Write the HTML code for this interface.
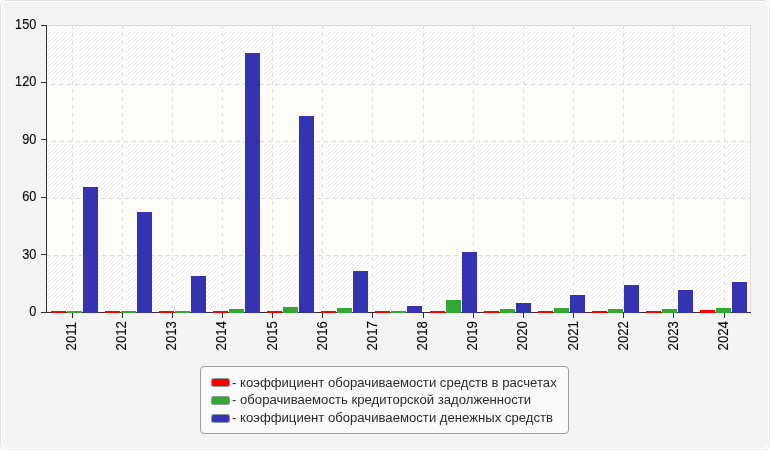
<!DOCTYPE html>
<html lang="ru"><head><meta charset="utf-8"><title>chart</title>
<style>
html,body{margin:0;padding:0;background:#fff;}
body{width:770px;height:450px;overflow:hidden;}
svg{display:block;}
text{stroke:#000;stroke-width:0.12px;font-family:"Liberation Sans",Arial,sans-serif;font-size:14px;fill:#0a0a0a;}
</style></head><body>
<svg width="770" height="450" viewBox="0 0 770 450">
<defs>
<pattern id="hatch" x="0" y="0" width="4" height="4" patternUnits="userSpaceOnUse">
<rect x="2" y="0" width="1" height="1" fill="#eeeeee"/>
<rect x="1" y="1" width="1" height="1" fill="#eeeeee"/>
<rect x="0" y="2" width="1" height="1" fill="#eeeeee"/>
<rect x="3" y="3" width="1" height="1" fill="#eeeeee"/>
</pattern>
</defs>

<rect x="0.5" y="0.5" width="769" height="449" rx="5.5" ry="5.5" fill="#ffffff" stroke="#e4e4e4"/>
<rect x="2" y="2" width="766" height="446" rx="5" ry="5" fill="#f4f4f4"/>
<g shape-rendering="crispEdges">
<rect x="46" y="25" width="705" height="288" fill="#ffffff"/>
<rect x="46" y="25" width="705" height="288" fill="url(#hatch)"/>
<rect x="47" y="84" width="703" height="57" fill="#fefef8" fill-opacity="0.65"/>
<rect x="47" y="198" width="703" height="57" fill="#fefef8" fill-opacity="0.65"/>
<rect x="46.5" y="25.5" width="704" height="287" fill="none" stroke="#dddddd"/>
<line x1="46" y1="255.5" x2="751" y2="255.5" stroke="#dcdcdc" stroke-dasharray="4 4" stroke-dashoffset="0"/>
<line x1="46" y1="198.5" x2="751" y2="198.5" stroke="#dcdcdc" stroke-dasharray="4 4" stroke-dashoffset="1"/>
<line x1="46" y1="141.5" x2="751" y2="141.5" stroke="#dcdcdc" stroke-dasharray="4 4" stroke-dashoffset="2"/>
<line x1="46" y1="84.5" x2="751" y2="84.5" stroke="#dcdcdc" stroke-dasharray="4 4" stroke-dashoffset="3"/>
<line x1="72.5" y1="25" x2="72.5" y2="312" stroke="#e3e3e3" stroke-dasharray="4 4"/>
<line x1="122.5" y1="25" x2="122.5" y2="312" stroke="#e3e3e3" stroke-dasharray="4 4"/>
<line x1="172.5" y1="25" x2="172.5" y2="312" stroke="#e3e3e3" stroke-dasharray="4 4"/>
<line x1="222.5" y1="25" x2="222.5" y2="312" stroke="#e3e3e3" stroke-dasharray="4 4"/>
<line x1="272.5" y1="25" x2="272.5" y2="312" stroke="#e3e3e3" stroke-dasharray="4 4"/>
<line x1="322.5" y1="25" x2="322.5" y2="312" stroke="#e3e3e3" stroke-dasharray="4 4"/>
<line x1="372.5" y1="25" x2="372.5" y2="312" stroke="#e3e3e3" stroke-dasharray="4 4"/>
<line x1="423.5" y1="25" x2="423.5" y2="312" stroke="#e3e3e3" stroke-dasharray="4 4"/>
<line x1="473.5" y1="25" x2="473.5" y2="312" stroke="#e3e3e3" stroke-dasharray="4 4"/>
<line x1="523.5" y1="25" x2="523.5" y2="312" stroke="#e3e3e3" stroke-dasharray="4 4"/>
<line x1="573.5" y1="25" x2="573.5" y2="312" stroke="#e3e3e3" stroke-dasharray="4 4"/>
<line x1="623.5" y1="25" x2="623.5" y2="312" stroke="#e3e3e3" stroke-dasharray="4 4"/>
<line x1="673.5" y1="25" x2="673.5" y2="312" stroke="#e3e3e3" stroke-dasharray="4 4"/>
<line x1="724.5" y1="25" x2="724.5" y2="312" stroke="#e3e3e3" stroke-dasharray="4 4"/>
<rect x="46" y="25" width="1" height="288" fill="#323232"/>
<rect x="46" y="312" width="705" height="1" fill="#323232"/>
<rect x="41" y="312" width="5" height="1" fill="#323232"/>
<rect x="41" y="254" width="5" height="1" fill="#323232"/>
<rect x="41" y="197" width="5" height="1" fill="#323232"/>
<rect x="41" y="139" width="5" height="1" fill="#323232"/>
<rect x="41" y="82" width="5" height="1" fill="#323232"/>
<rect x="41" y="25" width="5" height="1" fill="#323232"/>
<rect x="72" y="312" width="1" height="6" fill="#323232"/>
<rect x="122" y="312" width="1" height="6" fill="#323232"/>
<rect x="172" y="312" width="1" height="6" fill="#323232"/>
<rect x="222" y="312" width="1" height="6" fill="#323232"/>
<rect x="272" y="312" width="1" height="6" fill="#323232"/>
<rect x="322" y="312" width="1" height="6" fill="#323232"/>
<rect x="372" y="312" width="1" height="6" fill="#323232"/>
<rect x="423" y="312" width="1" height="6" fill="#323232"/>
<rect x="473" y="312" width="1" height="6" fill="#323232"/>
<rect x="523" y="312" width="1" height="6" fill="#323232"/>
<rect x="573" y="312" width="1" height="6" fill="#323232"/>
<rect x="623" y="312" width="1" height="6" fill="#323232"/>
<rect x="673" y="312" width="1" height="6" fill="#323232"/>
<rect x="724" y="312" width="1" height="6" fill="#323232"/>
<rect x="51" y="311" width="15" height="2" fill="#ff0000"/>
<rect x="67" y="311" width="15" height="2" fill="#33a933"/>
<rect x="83" y="187" width="15" height="126" fill="#3633b3"/>
<rect x="105" y="311" width="15" height="2" fill="#ff0000"/>
<rect x="121" y="311" width="15" height="2" fill="#33a933"/>
<rect x="137" y="212" width="15" height="101" fill="#3633b3"/>
<rect x="159" y="311" width="15" height="2" fill="#ff0000"/>
<rect x="175" y="311" width="15" height="2" fill="#33a933"/>
<rect x="191" y="276" width="15" height="37" fill="#3633b3"/>
<rect x="213" y="311" width="15" height="2" fill="#ff0000"/>
<rect x="229" y="309" width="15" height="4" fill="#33a933"/>
<rect x="245" y="53" width="15" height="260" fill="#3633b3"/>
<rect x="267" y="311" width="15" height="2" fill="#ff0000"/>
<rect x="283" y="307" width="15" height="6" fill="#33a933"/>
<rect x="299" y="116" width="15" height="197" fill="#3633b3"/>
<rect x="321" y="311" width="15" height="2" fill="#ff0000"/>
<rect x="337" y="308" width="15" height="5" fill="#33a933"/>
<rect x="353" y="271" width="15" height="42" fill="#3633b3"/>
<rect x="375" y="311" width="15" height="2" fill="#ff0000"/>
<rect x="391" y="311" width="15" height="2" fill="#33a933"/>
<rect x="407" y="306" width="15" height="7" fill="#3633b3"/>
<rect x="430" y="311" width="15" height="2" fill="#ff0000"/>
<rect x="446" y="300" width="15" height="13" fill="#33a933"/>
<rect x="462" y="252" width="15" height="61" fill="#3633b3"/>
<rect x="484" y="311" width="15" height="2" fill="#ff0000"/>
<rect x="500" y="309" width="15" height="4" fill="#33a933"/>
<rect x="516" y="303" width="15" height="10" fill="#3633b3"/>
<rect x="538" y="311" width="15" height="2" fill="#ff0000"/>
<rect x="554" y="308" width="15" height="5" fill="#33a933"/>
<rect x="570" y="295" width="15" height="18" fill="#3633b3"/>
<rect x="592" y="311" width="15" height="2" fill="#ff0000"/>
<rect x="608" y="309" width="15" height="4" fill="#33a933"/>
<rect x="624" y="285" width="15" height="28" fill="#3633b3"/>
<rect x="646" y="311" width="15" height="2" fill="#ff0000"/>
<rect x="662" y="309" width="15" height="4" fill="#33a933"/>
<rect x="678" y="290" width="15" height="23" fill="#3633b3"/>
<rect x="700" y="310" width="15" height="3" fill="#ff0000"/>
<rect x="716" y="308" width="15" height="5" fill="#33a933"/>
<rect x="732" y="282" width="15" height="31" fill="#3633b3"/>
</g>
<text transform="translate(36.3,316.1) scale(0.91,1)" text-anchor="end">0</text>
<text transform="translate(36.3,258.9) scale(0.91,1)" text-anchor="end">30</text>
<text transform="translate(36.3,201.1) scale(0.91,1)" text-anchor="end">60</text>
<text transform="translate(36.3,143.9) scale(0.91,1)" text-anchor="end">90</text>
<text transform="translate(36.3,86.1) scale(0.91,1)" text-anchor="end">120</text>
<text transform="translate(36.3,29.1) scale(0.91,1)" text-anchor="end">150</text>
<text transform="translate(76,350.4) rotate(-90) scale(0.94,1)">2011</text>
<text transform="translate(126,350.4) rotate(-90) scale(0.94,1)">2012</text>
<text transform="translate(176,350.4) rotate(-90) scale(0.94,1)">2013</text>
<text transform="translate(226,350.4) rotate(-90) scale(0.94,1)">2014</text>
<text transform="translate(277,350.4) rotate(-90) scale(0.94,1)">2015</text>
<text transform="translate(327,350.4) rotate(-90) scale(0.94,1)">2016</text>
<text transform="translate(377,350.4) rotate(-90) scale(0.94,1)">2017</text>
<text transform="translate(427,350.4) rotate(-90) scale(0.94,1)">2018</text>
<text transform="translate(477,350.4) rotate(-90) scale(0.94,1)">2019</text>
<text transform="translate(527,350.4) rotate(-90) scale(0.94,1)">2020</text>
<text transform="translate(578,350.4) rotate(-90) scale(0.94,1)">2021</text>
<text transform="translate(628,350.4) rotate(-90) scale(0.94,1)">2022</text>
<text transform="translate(678,350.4) rotate(-90) scale(0.94,1)">2023</text>
<text transform="translate(728,350.4) rotate(-90) scale(0.94,1)">2024</text>
<rect x="200.5" y="366.5" width="368" height="67" rx="3.5" ry="3.5" fill="#fafafa" stroke="#9e9e9e"/>
<rect x="211" y="378.0" width="19" height="9" rx="2.5" ry="2.5" fill="#8a9a9a"/>
<rect x="212" y="379.0" width="17" height="7" rx="1.8" ry="1.8" fill="#ff0000"/>
<text transform="translate(232.0,386.6) scale(0.9666,1)" style="font-size:13.6px;stroke:none;fill:#2a2a2a">- коэффициент оборачиваемости средств в расчетах</text>
<rect x="211" y="396.0" width="19" height="9" rx="2.5" ry="2.5" fill="#8a9a9a"/>
<rect x="212" y="397.0" width="17" height="7" rx="1.8" ry="1.8" fill="#33a933"/>
<text transform="translate(232.0,404.1) scale(0.9666,1)" style="font-size:13.6px;stroke:none;fill:#2a2a2a">- оборачиваемость кредиторской задолженности</text>
<rect x="211" y="414.0" width="19" height="9" rx="2.5" ry="2.5" fill="#8a9a9a"/>
<rect x="212" y="415.0" width="17" height="7" rx="1.8" ry="1.8" fill="#3633b3"/>
<text transform="translate(232.0,421.6) scale(0.9666,1)" style="font-size:13.6px;stroke:none;fill:#2a2a2a">- коэффициент оборачиваемости денежных средств</text>
</svg>
</body></html>
